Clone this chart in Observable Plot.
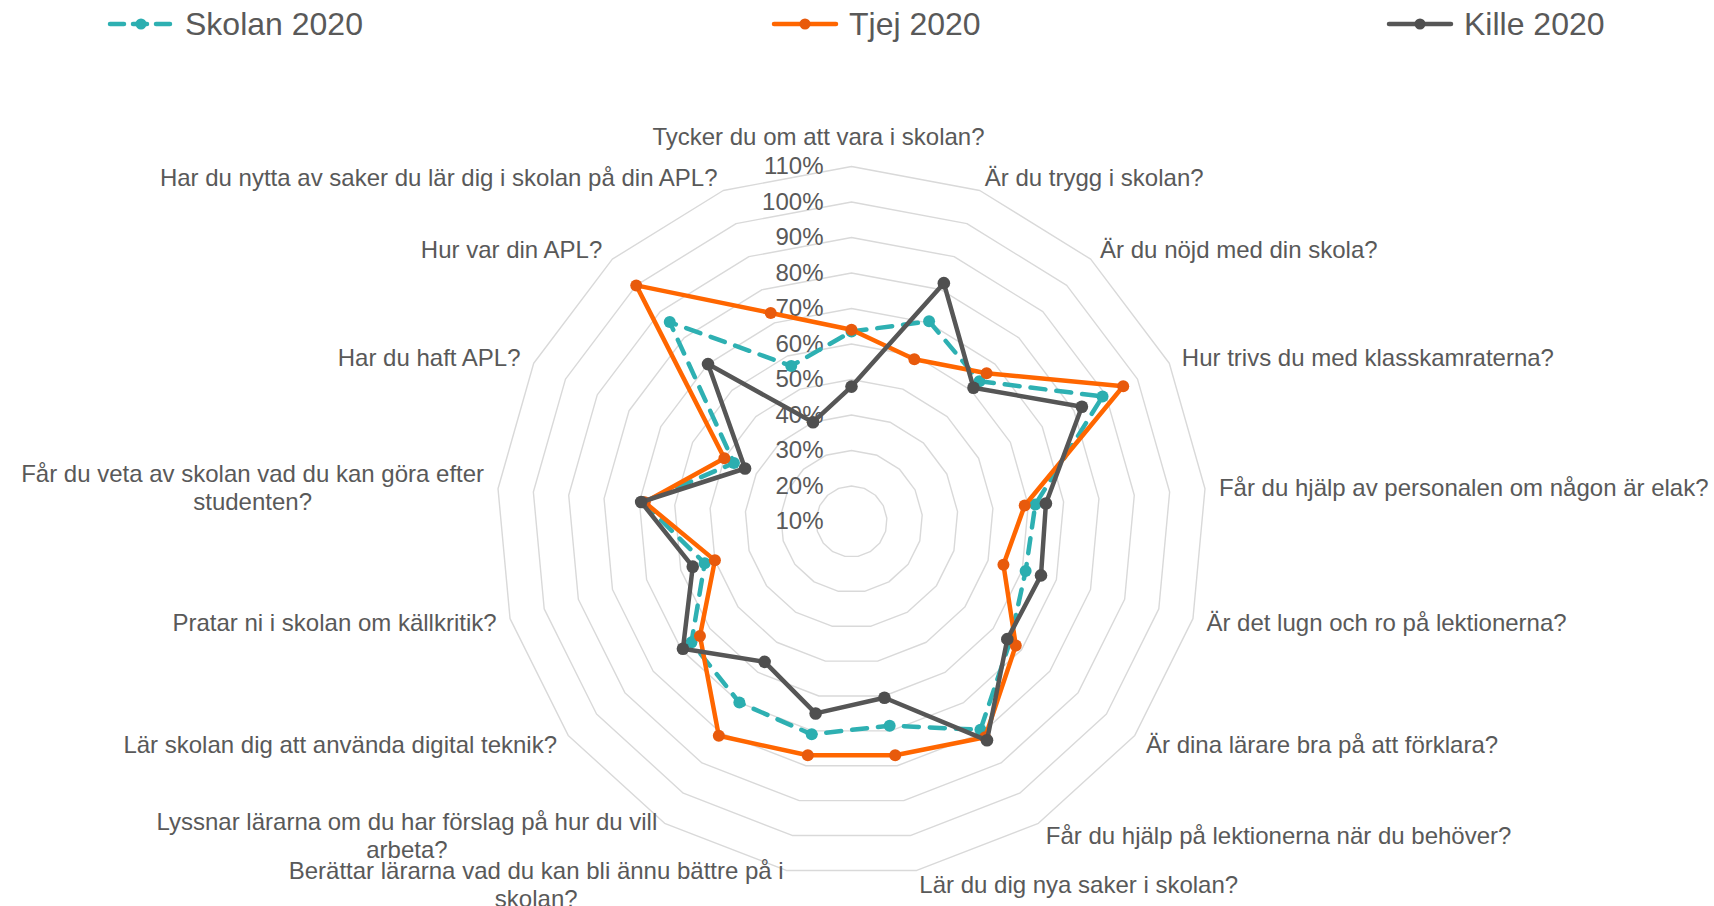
<!DOCTYPE html>
<html>
<head>
<meta charset="utf-8">
<script src="https://cdn.jsdelivr.net/npm/d3@7"></script>
<script src="https://cdn.jsdelivr.net/npm/@observablehq/plot@0.6"></script>
<style>
  body { margin: 0; background: #fff; font-family: "Liberation Sans", Arial, sans-serif; }
  #legend { position: relative; width: 1714px; height: 48px; }
  .item { position: absolute; top: 0; height: 48px; display: flex; align-items: center;
          font-size: 32px; color: #595959; white-space: nowrap; }
  .item svg { margin-right: 10px; }
</style>
</head>
<body>
<div id="legend"></div>
<div id="chart"></div>
<script>
// ---- data ----
const categories = [
  "Tycker du om att vara i skolan?",
  "Är du trygg i skolan?",
  "Är du nöjd med din skola?",
  "Hur trivs du med klasskamraterna?",
  "Får du hjälp av personalen om någon är elak?",
  "Är det lugn och ro på lektionerna?",
  "Är dina lärare bra på att förklara?",
  "Får du hjälp på lektionerna när du behöver?",
  "Lär du dig nya saker i skolan?",
  "Berättar lärarna vad du kan bli ännu bättre på i\nskolan?",
  "Lyssnar lärarna om du har förslag på hur du vill\narbeta?",
  "Lär skolan dig att använda digital teknik?",
  "Pratar ni i skolan om källkritik?",
  "Får du veta av skolan vad du kan göra efter\nstudenten?",
  "Har du haft APL?",
  "Hur var din APL?",
  "Har du nytta av saker du lär dig i skolan på din APL?"
];
const skolan2020 = [63.5, 70.5, 63.5, 89, 62, 61, 66, 79, 68.5, 71, 70, 66.5, 53, 69, 47, 86, 57];
const tjej2020   = [64, 59, 66.5, 95.5, 59, 54.5, 68, 81.5, 77, 77, 81, 63.5, 50, 68.5, 50, 100, 73];
const kille2020  = [48, 82, 61, 82.5, 65, 65.5, 65, 82.5, 60.5, 65, 56.5, 69.5, 56.5, 69.5, 43.5, 70, 40];
const seriesNames = ["Skolan 2020", "Tjej 2020", "Kille 2020"];
const tickLevels = [10, 20, 30, 40, 50, 60, 70, 80, 90, 100, 110];
const axisMin = 10;

// ---- styling ----
const FONT = '"Liberation Sans", Arial, sans-serif';
const TEXT = "#595959";
const styles = [
  {line: "#2EB0B2", marker: "#2BAEB0", dash: "15,11", r: 6},
  {line: "#FF6600", marker: "#E85A0C", dash: null, r: 6},
  {line: "#565656", marker: "#4F4F4F", dash: null, r: 6.3}
];

// ---- layout ----
const W = 1714, LEG = 48, H = 906 - LEG;
const cx = 851, cy = 521 - LEG;   // centre in svg pixels
const PX = 3.55;                  // pixels per percentage point
const n = categories.length;
const ang = i => i * 2 * Math.PI / n;
const pos = (i, v) => ({x: (v - axisMin) * Math.sin(ang(i)), y: (v - axisMin) * Math.cos(ang(i))});

// grid rings
const rings = [];
tickLevels.slice(1).forEach(L => {
  for (let i = 0; i < n; i++) rings.push({L, ...pos(i, L)});
});

// series rows
const allSeries = [skolan2020, tjej2020, kille2020];
const seriesRows = allSeries.map((vals, s) => vals.map((v, i) => ({s: seriesNames[s], cat: categories[i], v, ...pos(i, v)})));

// category labels
const ctx = document.createElement("canvas").getContext("2d");
ctx.font = "24px " + FONT;
const outer = tickLevels[tickLevels.length - 1];
const labelData = categories.map((label, i) => {
  const s = Math.sin(ang(i)), c = Math.cos(ang(i));
  const rl = (outer - axisMin) + 14 / PX;
  let x = rl * s, y = rl * c;
  const top = Math.abs(s) < 0.01;
  const w = Math.max(...label.split("\n").map(t => ctx.measureText(t).width));
  if (top) { y += 15 / PX; }
  else if (s > 0) { x += (w / 2) / PX; }
  else { x -= (w / 2) / PX; }
  return {label, x, y, top};
});

const marks = [
  Plot.line(rings, {x: "x", y: "y", z: "L", curve: "linear-closed", stroke: "#D9D9D9", strokeWidth: 1.4}),
  Plot.text(tickLevels, {x: 0, y: d => d - axisMin, text: d => d + "%", textAnchor: "end", dx: -28,
    fontSize: 24, fill: TEXT, fontFamily: FONT}),
  Plot.text(labelData.filter(d => !d.top), {x: "x", y: "y", text: "label", textAnchor: "middle", lineAnchor: "middle",
    lineHeight: 1.15, fontSize: 24, fill: TEXT, fontFamily: FONT}),
  Plot.text(labelData.filter(d => d.top), {x: "x", y: "y", text: "label", textAnchor: "middle", lineAnchor: "middle",
    dx: -33, fontSize: 24, fill: TEXT, fontFamily: FONT})
];
seriesRows.forEach((rows, s) => {
  const st = styles[s];
  marks.push(Plot.line(rows, {x: "x", y: "y", curve: "linear-closed", stroke: st.line, strokeWidth: 4.5,
    strokeDasharray: st.dash || undefined, strokeLinecap: "round", strokeLinejoin: "round"}));
  marks.push(Plot.dot(rows, {x: "x", y: "y", r: st.r, fill: st.marker, stroke: "none"}));
});

const chart = Plot.plot({
  width: W, height: H,
  marginTop: 0, marginRight: 0, marginBottom: 0, marginLeft: 0,
  x: {domain: [-cx / PX, (W - cx) / PX], axis: null},
  y: {domain: [-(H - cy) / PX, cy / PX], axis: null},
  style: {fontFamily: FONT, background: "#fff", overflow: "visible"},
  marks
});
document.getElementById("chart").appendChild(chart);

// legend (HTML above the SVG)
const legendLeft = [107, 771, 1386];
const legend = document.getElementById("legend");
seriesNames.forEach((name, s) => {
  const st = styles[s];
  const div = document.createElement("div");
  div.className = "item";
  div.style.left = legendLeft[s] + "px";
  div.innerHTML =
    `<svg width="68" height="20"><line x1="3" y1="10" x2="65" y2="10" stroke="${st.line}" stroke-width="4.5"
      stroke-linecap="round" ${st.dash ? 'stroke-dasharray="14,9"' : ''}/>
      <circle cx="34" cy="10" r="5.5" fill="${st.marker}"/></svg><span>${name}</span>`;
  legend.appendChild(div);
});
</script>
</body>
</html>
